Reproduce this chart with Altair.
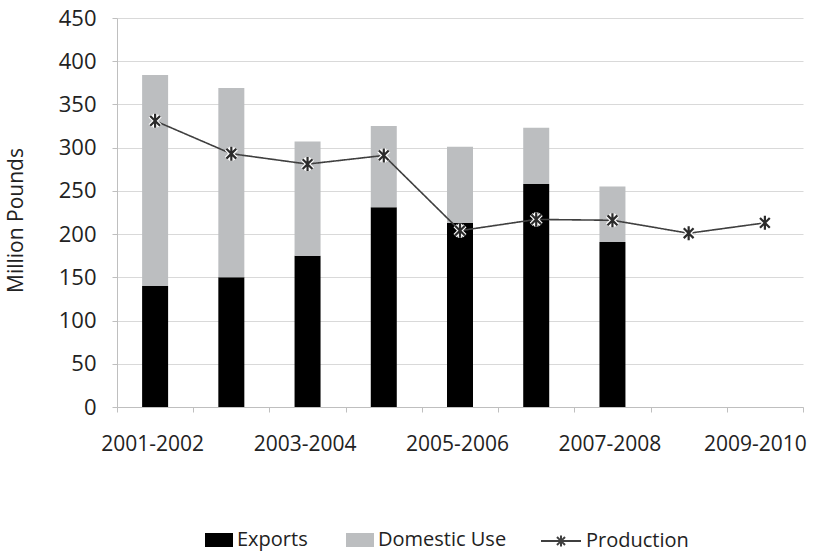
import json
import altair as alt
import pandas as pd

# Marketing years on the x axis
seasons = ["2001-2002", "2002-2003", "2003-2004", "2004-2005", "2005-2006",
           "2006-2007", "2007-2008", "2008-2009", "2009-2010"]
labelled = ["2001-2002", "2003-2004", "2005-2006", "2007-2008", "2009-2010"]

# Million pounds
exports = [140, 150, 175, 231, 213, 258, 191]
domestic_use = [244, 219, 132, 94, 88, 65, 64]
production = [331, 293, 281, 291, 204, 217, 216, 201, 213]

FONT = "Open Sans"
TEXT = "#222222"

rows = []
for i, v in enumerate(exports):
    rows.append({"season": seasons[i], "series": "Exports", "value": v, "order": 0})
for i, v in enumerate(domestic_use):
    rows.append({"season": seasons[i], "series": "Domestic Use", "value": v, "order": 1})
bars_df = pd.DataFrame(rows)

prod_df = pd.DataFrame({"season": seasons, "value": production, "series": "Production"})

x_enc = alt.X(
    "season:N",
    sort=seasons,
    scale=alt.Scale(domain=seasons, paddingInner=0, paddingOuter=0),
    axis=alt.Axis(
        title=None,
        labelAngle=0,
        labelExpr=f"indexof({json.dumps(labelled)}, datum.value) >= 0 ? datum.value : ''",
        # keep the last label inside the plot's right edge
        labelOffset={"condition": {"test": f"datum.value === '{seasons[-1]}'", "value": -10}, "value": -3},
        tickBand="extent",
        tickSize=5,
        tickColor="#bfbfbf",
        domainColor="#bfbfbf",
        labelFont=FONT,
        labelFontSize=21,
        labelColor=TEXT,
        labelPadding=21,
        grid=False,
    ),
)

y_scale = alt.Scale(domain=[0, 450], nice=False)
y_axis = alt.Axis(
    title="Million Pounds",
    values=list(range(0, 451, 50)),
    grid=True,
    gridColor="#d9d9d9",
    domain=True,
    domainColor="#bfbfbf",
    tickColor="#bfbfbf",
    tickSize=5,
    labelFont=FONT,
    labelFontSize=22,
    labelColor=TEXT,
    labelPadding=16,
    titleFont=FONT,
    titleFontSize=21,
    titleFontWeight="normal",
    titleColor=TEXT,
    titleX=-101,
    titleY=202,
    titleAngle=-90,
    titleAlign="center",
    titleBaseline="middle",
)

bars = alt.Chart(bars_df).mark_bar(size=26).encode(
    x=x_enc,
    y=alt.Y("value:Q", stack="zero", scale=y_scale, axis=y_axis),
    color=alt.Color(
        "series:N",
        scale=alt.Scale(domain=["Exports", "Domestic Use"], range=["#000000", "#bcbec0"]),
        legend=alt.Legend(
            title=None,
            orient="none",
            direction="horizontal",
            legendX=88,
            legendY=508,
            symbolType="M-1,-0.5H1V0.5H-1Z",
            symbolSize=784,
            symbolStrokeWidth=0,
            labelFont=FONT,
            labelFontSize=20,
            labelColor=TEXT,
            labelOffset=4,
            columnPadding=38,
        ),
    ),
    order=alt.Order("order:Q"),
)

line = alt.Chart(prod_df).mark_line(color="#3f3f3f", strokeWidth=1.6).encode(
    x=alt.X("season:N", sort=seasons),
    y=alt.Y("value:Q"),
    strokeDash=alt.StrokeDash(
        "series:N",
        scale=alt.Scale(domain=["Production"], range=[[1, 0]]),
        legend=alt.Legend(
            title=None,
            orient="none",
            legendX=423,
            legendY=502,
            symbolType="M-1,0H1M0,-0.28V0.28M-0.2,-0.2L0.2,0.2M-0.2,0.2L0.2,-0.2",
            symbolSize=1600,
            symbolStrokeColor="#3f3f3f",
            symbolStrokeWidth=2,
            symbolFillColor="transparent",
            labelFont=FONT,
            labelFontSize=20,
            labelColor=TEXT,
            labelOffset=4,
        ),
    ),
)

ASTERISK = "M0,-1V1M-0.7,-0.7L0.7,0.7M-0.7,0.7L0.7,-0.7"

halo = alt.Chart(prod_df).mark_point(
    shape=ASTERISK, filled=False, size=196, stroke="#ffffff", strokeWidth=4.5, opacity=1
).encode(x=alt.X("season:N", sort=seasons), y=alt.Y("value:Q"))

stars = alt.Chart(prod_df).mark_point(
    shape=ASTERISK, filled=False, size=196, stroke="#2b2b2b", strokeWidth=2.2, opacity=1
).encode(x=alt.X("season:N", sort=seasons), y=alt.Y("value:Q"))

chart = (
    alt.layer(bars, line, halo, stars)
    .properties(
        width=686,
        height=389,
        autosize=alt.AutoSizeParams(type="none"),
        padding={"left": 117, "top": 18, "right": 10, "bottom": 146},
        background="#ffffff",
    )
    .configure_view(stroke=None)
)

chart.save("out.html", embed_options={"renderer": "svg", "actions": False})
